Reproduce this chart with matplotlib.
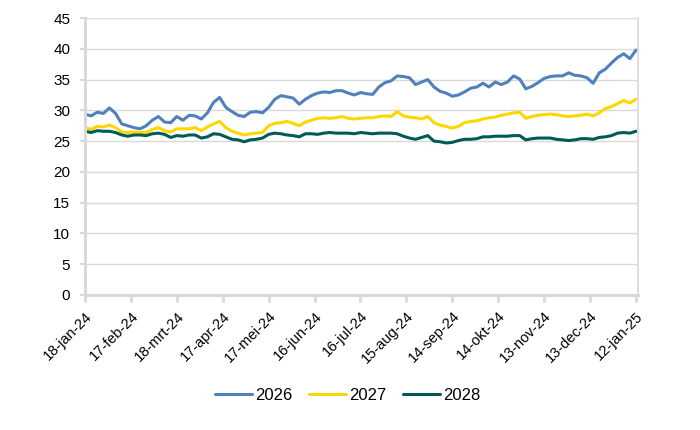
import matplotlib.pyplot as plt
import numpy as np
import pandas as pd

plt.rcParams['font.family'] = ['Liberation Sans', 'DejaVu Sans']

# sample dates, every 4 days from 18-jan-24 up to 12-jan-25
datums = pd.date_range('2024-01-18', '2025-01-12', freq='4D')

serie_2026 = [29.4, 29.1, 29.7, 29.5, 30.4, 29.5, 27.8, 27.5, 27.2, 27.0,
              27.5, 28.4, 29.0, 28.1, 28.0, 29.0, 28.4, 29.2, 29.1, 28.6,
              29.6, 31.3, 32.1, 30.5, 29.8, 29.2, 29.0, 29.7, 29.8, 29.6,
              30.5, 31.8, 32.4, 32.2, 32.0, 31.0, 31.8, 32.4, 32.8, 33.0,
              32.9, 33.2, 33.2, 32.8, 32.5, 32.9, 32.7, 32.6, 33.8, 34.5,
              34.8, 35.6, 35.5, 35.3, 34.2, 34.6, 35.0, 33.8, 33.1, 32.8,
              32.3, 32.5, 33.0, 33.6, 33.8, 34.4, 33.8, 34.6, 34.2, 34.6,
              35.6, 35.1, 33.5, 33.9, 34.5, 35.2, 35.5, 35.6, 35.6, 36.1,
              35.7, 35.6, 35.3, 34.4, 36.1, 36.7, 37.7, 38.6, 39.2, 38.4,
              39.8]

serie_2027 = [27.2, 26.9, 27.4, 27.3, 27.6, 27.2, 26.5, 26.4, 26.5, 26.4,
              26.4, 26.9, 27.2, 26.7, 26.5, 27.0, 27.0, 27.0, 27.2, 26.7,
              27.3, 27.8, 28.2, 27.2, 26.6, 26.3, 26.0, 26.2, 26.3, 26.4,
              27.5, 27.9, 28.0, 28.2, 27.9, 27.5, 28.1, 28.4, 28.7, 28.8,
              28.7, 28.8, 29.0, 28.7, 28.6, 28.7, 28.8, 28.8, 29.0, 29.1,
              29.0, 29.8, 29.1, 28.9, 28.8, 28.6, 29.0, 28.0, 27.6, 27.4,
              27.1, 27.4, 28.0, 28.2, 28.3, 28.6, 28.8, 28.9, 29.2, 29.4,
              29.6, 29.7, 28.7, 29.0, 29.2, 29.3, 29.4, 29.3, 29.1, 29.0,
              29.1, 29.2, 29.4, 29.1, 29.6, 30.3, 30.6, 31.1, 31.6, 31.2,
              31.8]

serie_2028 = [26.6, 26.4, 26.7, 26.6, 26.6, 26.4, 26.0, 25.8, 26.0, 26.0,
              25.9, 26.2, 26.3, 26.1, 25.6, 25.9, 25.8, 26.0, 26.0, 25.5,
              25.7, 26.2, 26.1, 25.7, 25.3, 25.2, 24.9, 25.2, 25.3, 25.5,
              26.1, 26.3, 26.2, 26.0, 25.9, 25.7, 26.2, 26.2, 26.1, 26.3,
              26.4, 26.3, 26.3, 26.3, 26.2, 26.4, 26.3, 26.2, 26.3, 26.3,
              26.3, 26.2, 25.8, 25.5, 25.3, 25.6, 25.9, 25.0, 24.9, 24.7,
              24.8, 25.1, 25.3, 25.3, 25.4, 25.7, 25.7, 25.8, 25.8, 25.8,
              25.9, 25.9, 25.2, 25.4, 25.5, 25.5, 25.5, 25.3, 25.2, 25.1,
              25.2, 25.4, 25.4, 25.3, 25.6, 25.7, 25.9, 26.3, 26.4, 26.3,
              26.6]

labels = ['2026', '2027', '2028']
kleuren = ['#4f81bd', '#ffd700', '#005a55']

fig = plt.figure(figsize=(7, 4.3), dpi=100)
ax = fig.add_axes([0.1214, 0.314, 0.79, 0.644])

for serie, lab, kl in zip([serie_2026, serie_2027, serie_2028], labels, kleuren):
    ax.plot(datums, serie, color=kl, linewidth=2.2, label=lab, solid_capstyle='round')

start = pd.Timestamp('2024-01-18')
ax.set_xlim(start, start + pd.Timedelta(days=361.3))
ax.set_ylim(0, 45)
ax.set_yticks(np.arange(0, 46, 5))

# Excel style date axis: a tick every 30 days
ticks = [start + pd.Timedelta(days=30 * i) for i in range(13)]
ax.set_xticks(ticks)
nl_maanden = ['jan', 'feb', 'mrt', 'apr', 'mei', 'jun', 'jul', 'aug', 'sep', 'okt', 'nov', 'dec']
ax.set_xticklabels([f'{t.day}-{nl_maanden[t.month - 1]}-{t.strftime("%y")}' for t in ticks],
                   rotation=45, ha='right', rotation_mode='anchor')

ax.grid(axis='y', color='#d9d9d9', linewidth=1)
ax.set_axisbelow(True)
for s in ['left', 'bottom']:
    ax.spines[s].set_color('#d9d9d9')
    ax.spines[s].set_linewidth(2.2)
ax.spines['top'].set_visible(False)
ax.spines['right'].set_color('#d9d9d9')
ax.spines['right'].set_linewidth(1.2)

ax.tick_params(axis='x', colors='#d9d9d9', width=2, length=5, labelcolor='black',
               labelsize=10.5, pad=5)
ax.tick_params(axis='y', colors='#d9d9d9', width=1.5, length=3.6, labelcolor='black',
               labelsize=11, pad=7)

fig.legend(loc='center', bbox_to_anchor=(0.497, 0.081), ncol=3, frameon=False,
           fontsize=12, handlelength=2.2, handletextpad=0.2, columnspacing=1.0)

plt.savefig('out.png', dpi=100)
